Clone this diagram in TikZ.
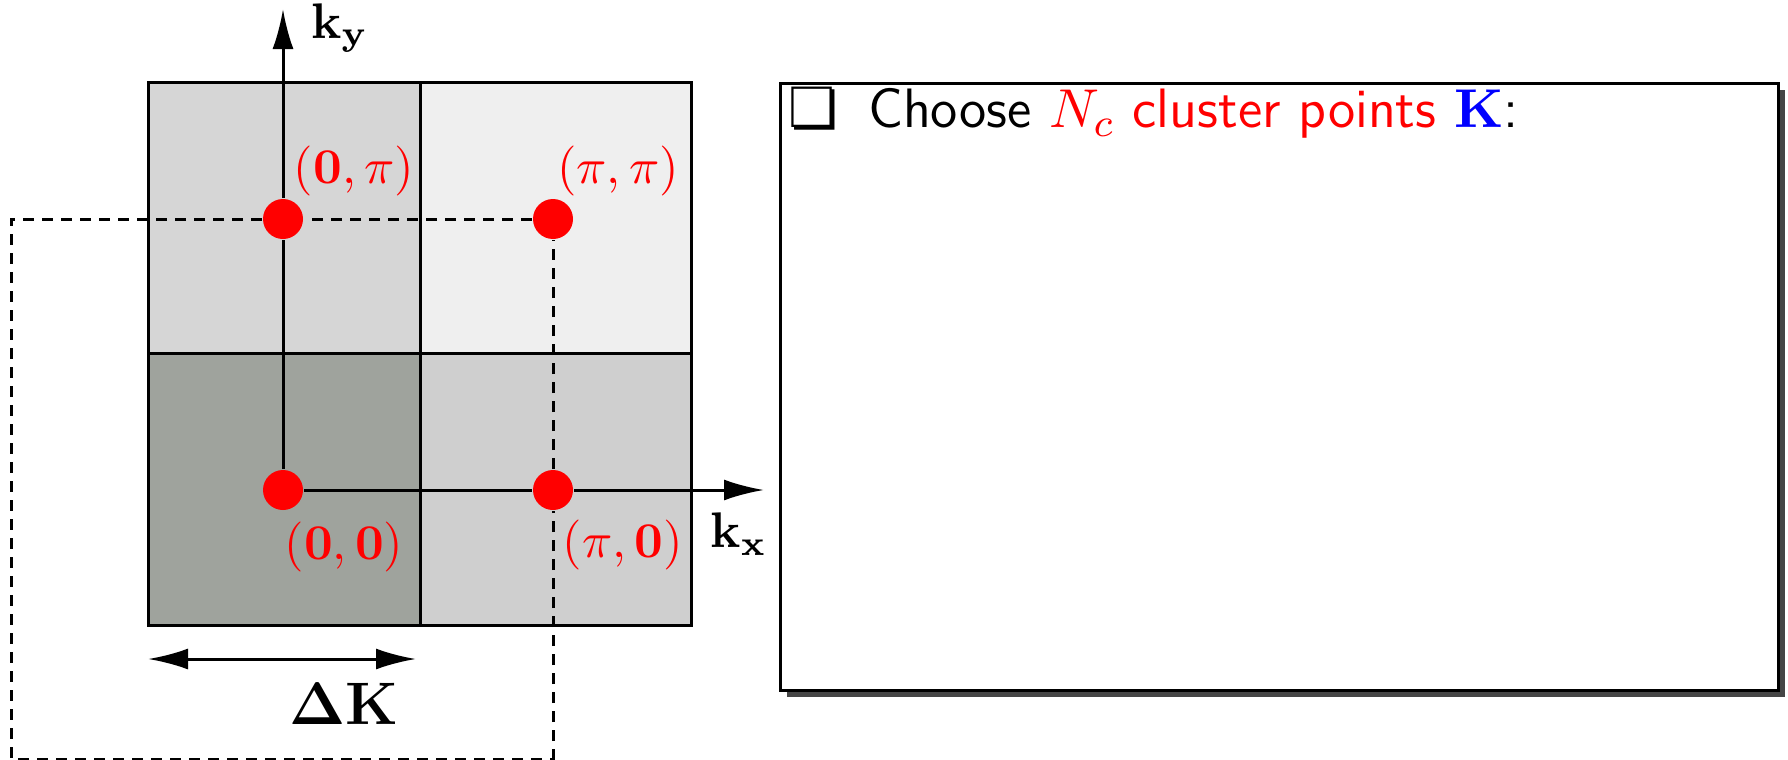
\documentclass[tikz,border=0pt]{standalone}
\usepackage[no-math]{fontspec}
\newfontfamily\dingfont{DejaVu Sans}
\usetikzlibrary{arrows.meta,shadows}
\definecolor{cellTL}{HTML}{D6D6D6}
\definecolor{cellTR}{HTML}{EFEFEF}
\definecolor{cellBL}{HTML}{9FA39D}
\definecolor{cellBR}{HTML}{CFCFCF}
\definecolor{shade}{HTML}{454545}
\begin{document}
\begin{tikzpicture}[x=0.2pt,y=-0.2pt,
  cell/.style={draw=black,line width=0.6pt},
  dot/.style={circle,fill=red,inner sep=0pt,minimum size=8pt},
  axisline/.style={line width=0.6pt},
  axisarrow/.style={line width=0.6pt,-{Latex[length=8pt,width=4.2pt]}},
  guide/.style={line width=0.6pt,dash pattern=on 2.2pt off 1.6pt},
  lab/.style={text=red,font=\fontsize{9.6}{11}\selectfont,inner sep=0pt},
  axlab/.style={font=\fontsize{10}{11}\selectfont,inner sep=0pt},
  panel/.style={draw=black,line width=0.6pt,fill=white,anchor=north west,
    minimum width=199.6pt,minimum height=121.4pt,inner sep=0pt,
    drop shadow={shadow xshift=1.2pt,shadow yshift=-1.2pt,fill=shade,opacity=1}}]
\useasboundingbox (0,0) rectangle (1788,760);
% grid cells
\filldraw[cell,fill=cellTL] (148,82) rectangle (420,353);
\filldraw[cell,fill=cellTR] (420,82) rectangle (691,353);
\filldraw[cell,fill=cellBL] (148,353) rectangle (420,625);
\filldraw[cell,fill=cellBR] (420,353) rectangle (691,625);
% points
\node[dot] (O) at (283,490) {};
\node[dot] (PZ) at (553,490) {};
\node[dot] (ZP) at (283,219) {};
\node[dot] (PP) at (553,219) {};
\coordinate (tipy) at (283,9);
\coordinate (tipx) at (764,490);
\coordinate (c1) at (11,219);
\coordinate (c2) at (11,759);
\coordinate (c3) at (553,759);
\coordinate (c4) at (553,760);
\coordinate (dl) at (148,659);
\coordinate (dr) at (416,659);
% dashed guides
\draw[guide] (PP) -- (ZP);
\draw[guide] (ZP) -- (c1) -- (c2) -- (c3);
\draw[guide] (c4) -- (PZ);
\draw[guide] (PZ) -- (PP);
% axes
\draw[axisline] (O) -- (ZP);
\draw[axisarrow] (ZP) -- (tipy);
\draw[axisline] (O) -- (PZ);
\draw[axisarrow] (PZ) -- (tipx);
\draw[line width=0.6pt,{Latex[length=8pt,width=4.2pt]}-{Latex[length=8pt,width=4.2pt]}] (dl) -- (dr);
% labels
\node[axlab] (ky) at (340,28) {$\mathbf{k_y}$};
\node[axlab] (kx) at (739,534) {$\mathbf{k_x}$};
\node[lab] (lZP) at (354,171) {$(\mathbf{0},\pi)$};
\node[lab] (lPP) at (618,171) {$(\pi,\pi)$};
\node[lab] (lO) at (344,547) {$(\mathbf{0},\mathbf{0})$};
\node[lab] (lPZ) at (623,545) {$(\pi,\mathbf{0})$};
\node[font=\fontsize{12}{14}\selectfont,inner sep=0pt] (dK) at (344,704) {$\mathbf{\Delta K}$};
% panel
\node[panel] (box) at (779,82) {};
\node[anchor=base west,inner sep=0pt,font=\fontsize{11.1}{13}\selectfont\sffamily] (txt) at (787,128)
  {{\dingfont ❏}\hspace{0.55em}Choose \textcolor{red}{$N_c$ cluster points} \textcolor{blue}{$\mathbf{K}$}:};
\end{tikzpicture}
\end{document}
